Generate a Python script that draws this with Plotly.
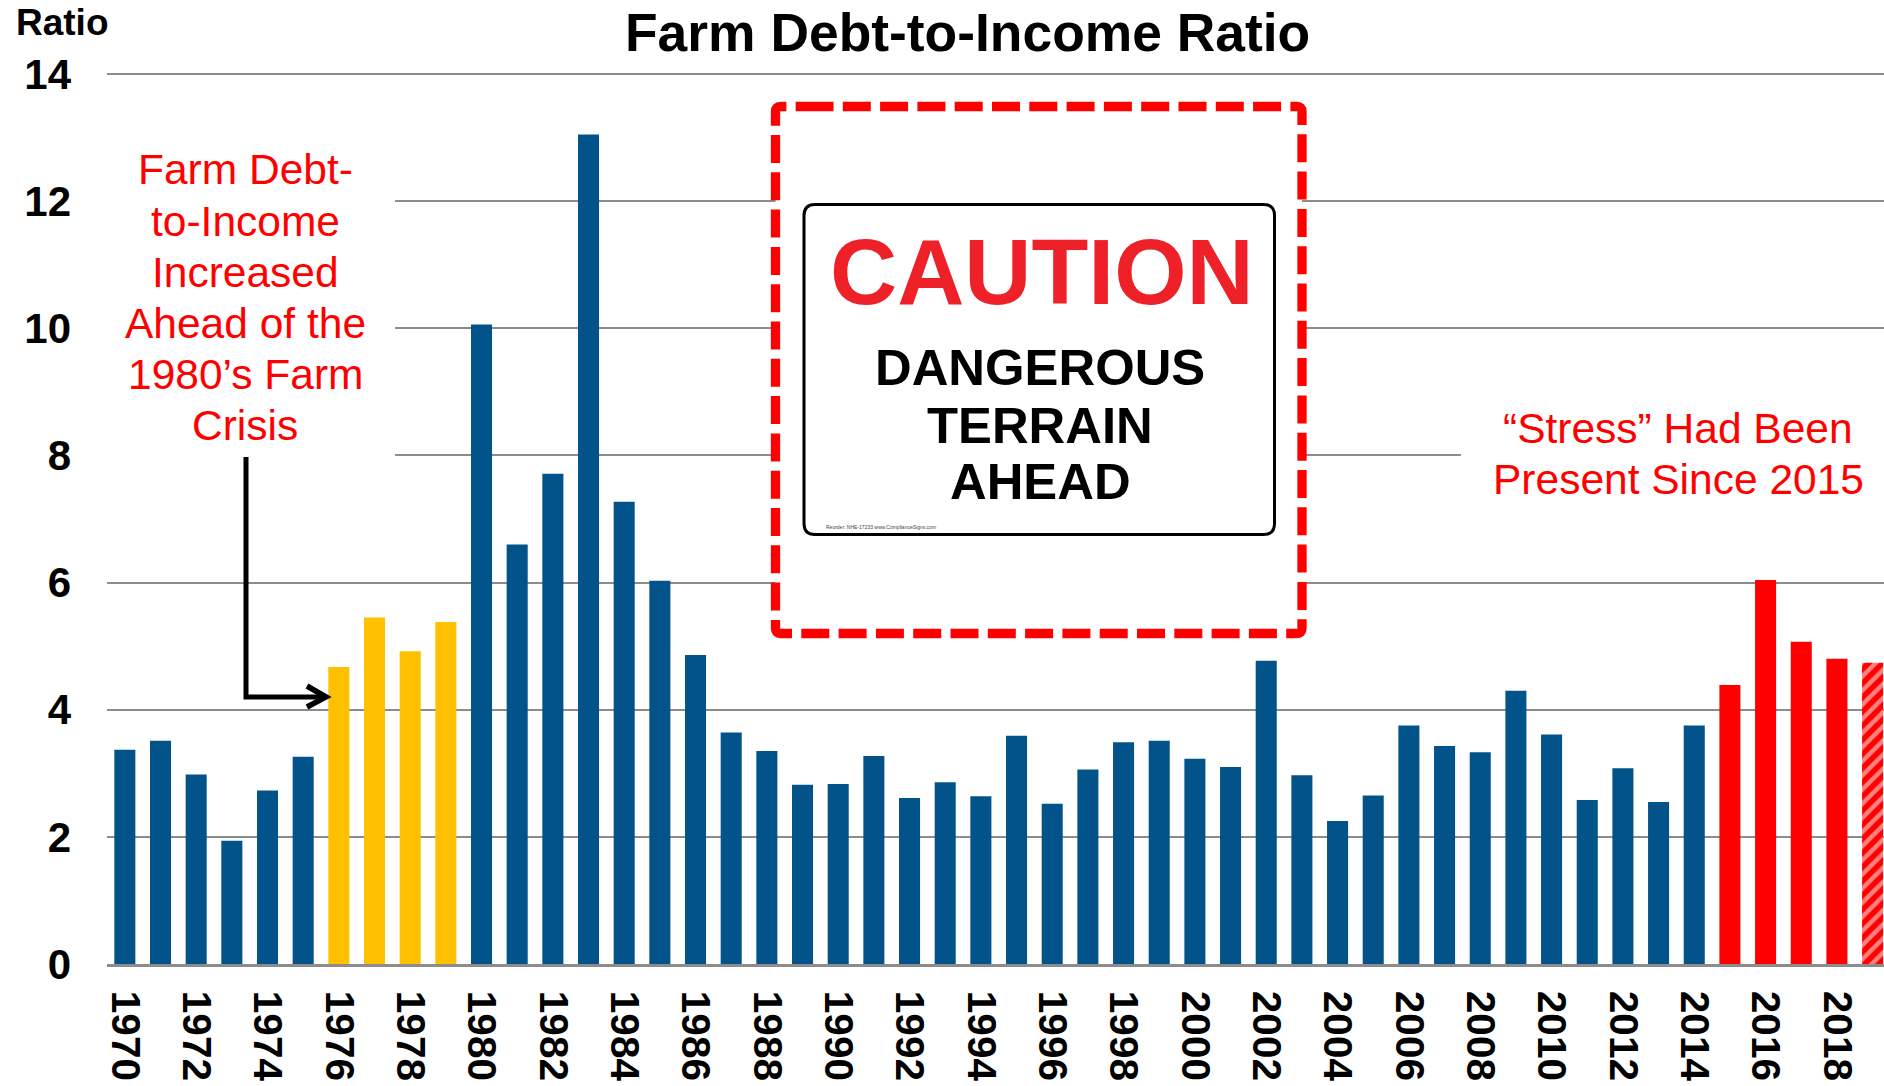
import plotly.graph_objects as go

# Farm debt-to-income ratio by year
years = list(range(1970, 2020))
ratios = [3.37, 3.51, 2.98, 1.94, 2.73, 3.26,
          4.67, 5.45, 4.92, 5.38,
          10.06, 6.60, 7.71, 13.05, 7.27, 6.03, 4.86, 3.64, 3.35, 2.82,
          2.83, 3.27, 2.61, 2.86, 2.64, 3.59, 2.52, 3.06, 3.49, 3.51,
          3.23, 3.10, 4.77, 2.97, 2.25, 2.65, 3.75, 3.43, 3.33, 4.30,
          3.61, 2.58, 3.08, 2.55, 3.75, 4.39, 6.04, 5.07, 4.80, 4.74]
pre_crisis_years = [1976, 1977, 1978, 1979]
stress_years = [2015, 2016, 2017, 2018, 2019]
forecast_years = [2019]
y_ticks = [0, 2, 4, 6, 8, 10, 12, 14]

BLUE, GOLD, RED = "#02538A", "#FFC000", "#FF0000"
SIGN_RED = "#EE2129"
GRID = "#8C8C8C"
FONT = "Liberation Sans"

WIDTH, HEIGHT = 1884, 1086
LEFT, TOP, BOTTOM = 107, 70, 964
Y_TOP = 14.063  # a little headroom so the gridline at 14 is drawn


def fx(px):
    return (px - LEFT) / (WIDTH - LEFT)


def fy(py):
    return (BOTTOM - py) / (BOTTOM - TOP)


def box(x0, y0, x1, y1, **kw):
    return dict(type="rect", xref="paper", yref="paper", x0=fx(x0), x1=fx(x1),
                y0=fy(y1), y1=fy(y0), layer="above", **kw)


def rounded_path(x0, y0, x1, y1, r, start=None):
    # clockwise outline with rounded corners, beginning on the top edge at `start`
    X0, X1, Y0, Y1 = fx(x0), fx(x1), fy(y0), fy(y1)
    rx, ry = r / (WIDTH - LEFT), r / (BOTTOM - TOP)
    begin = fx(start) if start is not None else X0 + rx
    return (f"M {begin} {Y0} L {X1-rx} {Y0} Q {X1} {Y0} {X1} {Y0-ry} "
            f"L {X1} {Y1+ry} Q {X1} {Y1} {X1-rx} {Y1} "
            f"L {X0+rx} {Y1} Q {X0} {Y1} {X0} {Y1+ry} "
            f"L {X0} {Y0-ry} Q {X0} {Y0} {X0+rx} {Y0} L {begin} {Y0}")


def polyline(points):
    return "M " + " L ".join(f"{fx(a)} {fy(b)}" for a, b in points)


def label(text, x, y, size, color="black", bold=False, **kw):
    return dict(text=f"<b>{text}</b>" if bold else text, xref="paper", yref="paper",
                x=fx(x), y=fy(y), xanchor="center", yanchor="middle", showarrow=False,
                font=dict(family=FONT, size=size, color=color), **kw)


colors = [RED if y in stress_years else GOLD if y in pre_crisis_years else BLUE for y in years]
patterns = ["/" if y in forecast_years else "" for y in years]

fig = go.Figure(go.Bar(
    x=years, y=ratios, width=0.59,
    marker=dict(color=colors, line_width=0,
                pattern=dict(shape=patterns, fgcolor=RED, bgcolor="white", size=10, solidity=0.45)),
))

shapes = [
    # white backings that interrupt the gridlines behind the call-outs
    box(107, 140, 395, 460, fillcolor="white", line_width=0),
    box(1461, 405, 1884, 510, fillcolor="white", line_width=0),
    # dashed frame around the sign
    dict(type="path", xref="paper", yref="paper", layer="above",
         path=rounded_path(775.5, 106.5, 1302, 633.5, 5, start=805.5), fillcolor="white",
         line=dict(color=RED, width=9.3, dash="28px,9.3px")),
    # the sign itself
    dict(type="path", xref="paper", yref="paper", layer="above",
         path=rounded_path(804, 204.5, 1274.5, 534.5, 11), fillcolor="white",
         line=dict(color="black", width=3)),
    # arrow from the left call-out to the 1976 bar
    dict(type="path", xref="paper", yref="paper", layer="above",
         path=polyline([(246, 457), (246, 697), (326, 697)]),
         line=dict(color="black", width=5)),
    dict(type="path", xref="paper", yref="paper", layer="above",
         path=polyline([(307, 686), (326, 697), (307, 707)]),
         line=dict(color="black", width=5.5)),
]

left_lines = ["Farm Debt-", "to-Income", "Increased", "Ahead of the", "1980\u2019s Farm", "Crisis"]
left_centers = [169, 221, 272, 323, 374, 425]
right_lines = ["\u201cStress\u201d Had Been", "Present Since 2015"]
right_centers = [428, 479]
sign_lines = ["DANGEROUS", "TERRAIN", "AHEAD"]
sign_centers = [367, 425, 482]

annotations = [
    label("Farm Debt-to-Income Ratio", 967, 32, 53.4, bold=True),
    label("Ratio", 62, 22, 37, bold=True),
    label("CAUTION", 1042, 272, 93, color=SIGN_RED, bold=True),
    label("Reorder: NHE-17233 www.ComplianceSigns.com", 881, 527, 5, color="#444444"),
]
annotations += [label(t, 245, c, 42.5, color=RED) for t, c in zip(left_lines, left_centers)]
annotations += [label(t, 1678, c, 42.5, color=RED) for t, c in zip(right_lines, right_centers)]
annotations += [label(t, 1040, c, 50.8, bold=True) for t, c in zip(sign_lines, sign_centers)]

fig.update_layout(
    width=WIDTH, height=HEIGHT,
    margin=dict(l=LEFT, r=0, t=TOP, b=HEIGHT - BOTTOM, autoexpand=False),
    paper_bgcolor="white", plot_bgcolor="white",
    showlegend=False,
    shapes=shapes, annotations=annotations,
    font=dict(family=FONT, color="black"),
    xaxis=dict(range=[1969.5, 2019.32], tickmode="array",
               tickvals=years[::2], ticktext=[f"<b>{y}</b>" for y in years[::2]],
               tickangle=90, tickfont=dict(size=40.5, family=FONT), ticks="",
               ticklabelstandoff=16, showgrid=False, zeroline=False,
               showline=True, linecolor=GRID, linewidth=2.5, fixedrange=True),
    yaxis=dict(range=[0, Y_TOP], tickmode="array", tickvals=y_ticks,
               ticktext=[f"<b>{t}</b>" for t in y_ticks],
               tickfont=dict(size=42, family=FONT), ticks="",
               ticklabelstandoff=35, showgrid=True, gridcolor=GRID, gridwidth=1.6,
               zeroline=False, showline=False, fixedrange=True),
)

fig.write_html("out.html", config=dict(displayModeBar=False))
